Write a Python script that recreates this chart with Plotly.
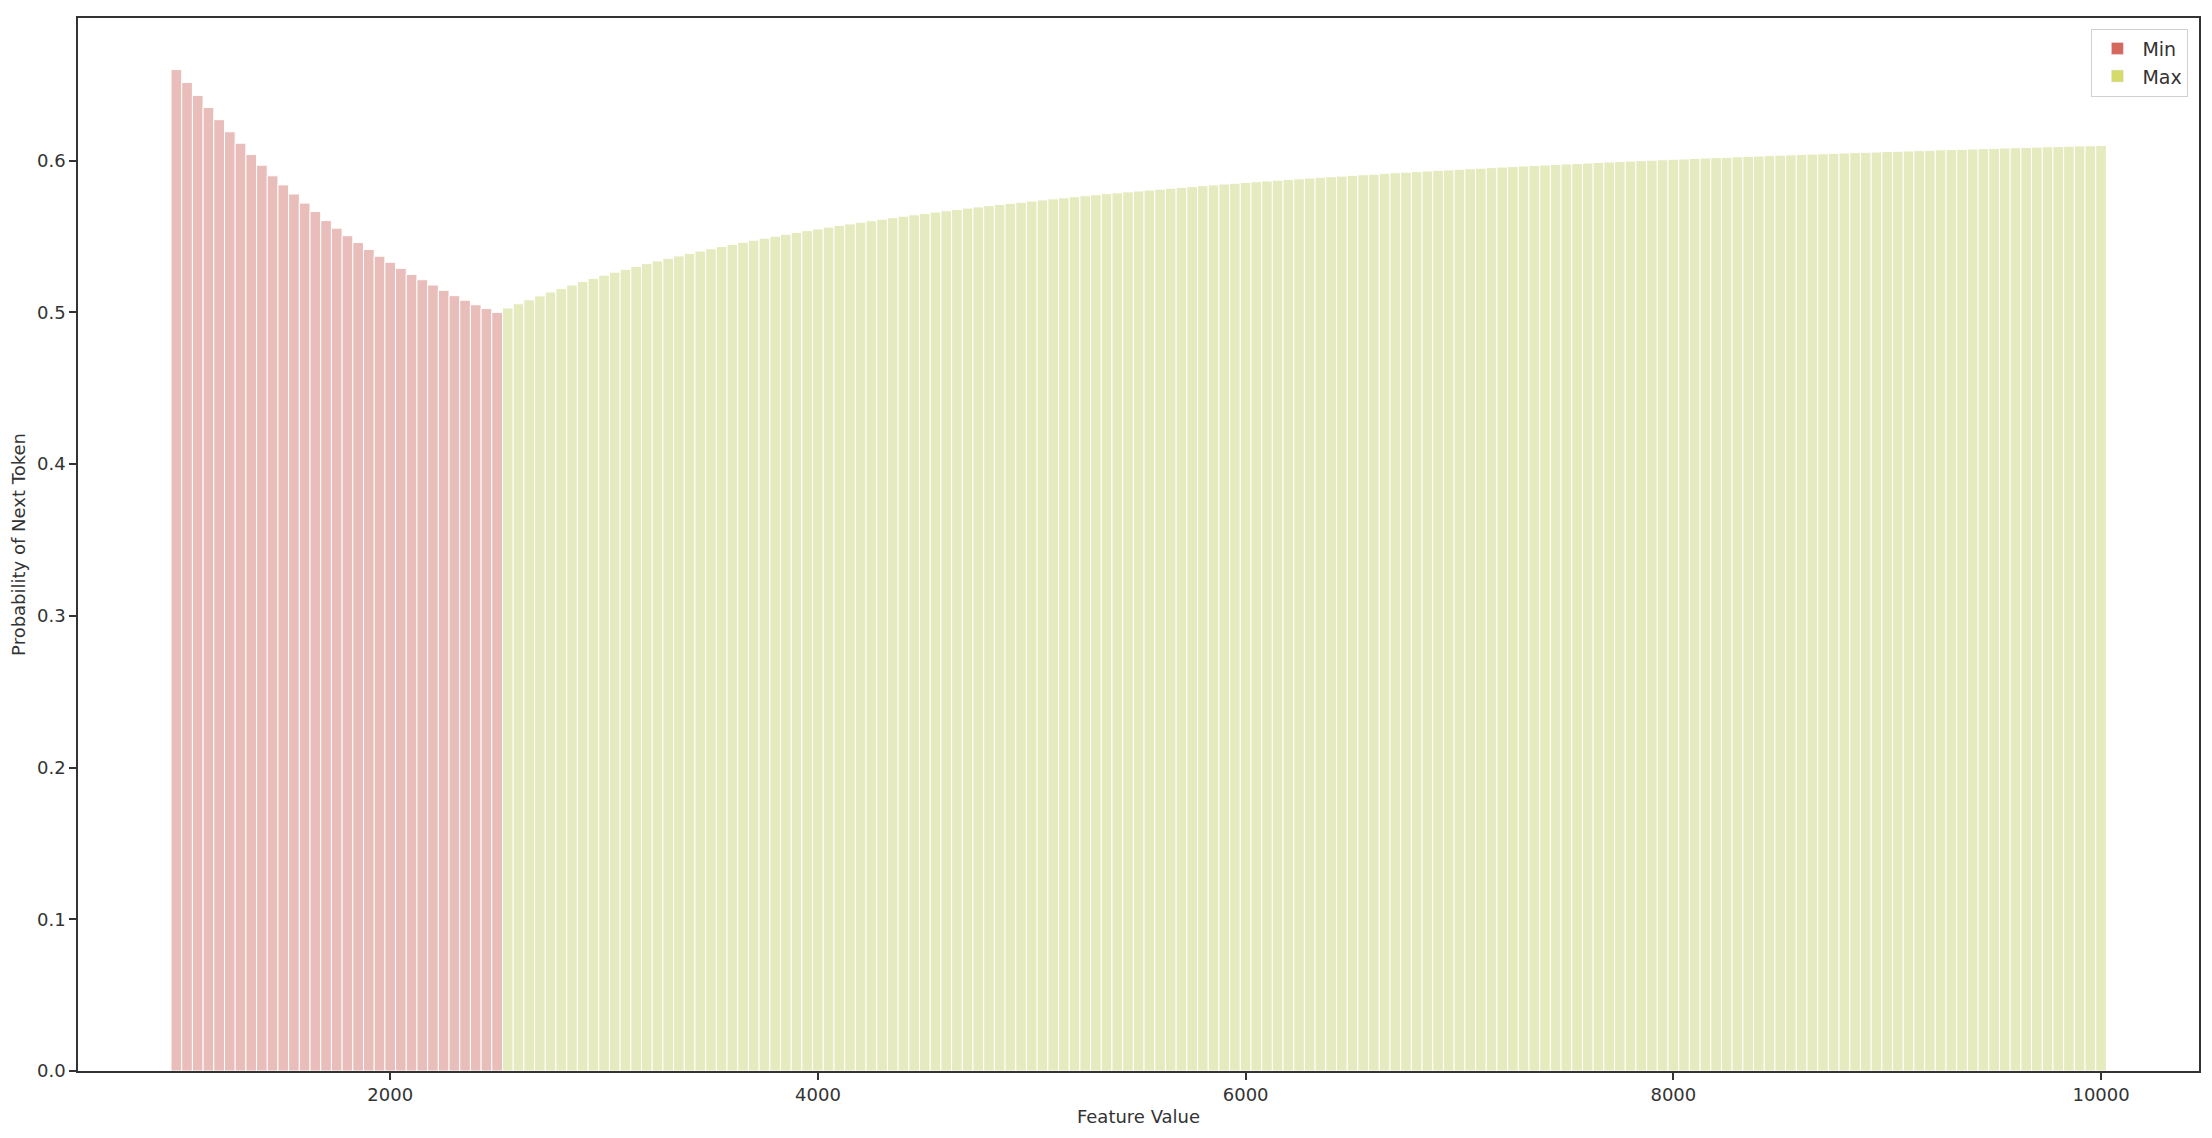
import plotly.graph_objects as go

# ---- data ----
min_x = [1000, 1050, 1100, 1150, 1200, 1250, 1300, 1350, 1400, 1450,
         1500, 1550, 1600, 1650, 1700, 1750, 1800, 1850, 1900, 1950,
         2000, 2050, 2100, 2150, 2200, 2250, 2300, 2350, 2400, 2450, 2500]
min_y = [0.660, 0.6515, 0.643, 0.635, 0.627, 0.619, 0.6115, 0.604, 0.597, 0.590,
         0.584, 0.578, 0.572, 0.5665, 0.5605, 0.5555, 0.5505, 0.546, 0.5415, 0.537,
         0.533, 0.529, 0.525, 0.5215, 0.518, 0.5145, 0.511, 0.508, 0.505, 0.5025, 0.500]

max_x = list(range(2550, 10001, 50))
max_y = [0.5029, 0.5057, 0.5083, 0.5109, 0.5134, 0.5157, 0.5180, 0.5203, 0.5224, 0.5245,
         0.5265, 0.5284, 0.5303, 0.5321, 0.5339, 0.5356, 0.5372, 0.5389, 0.5404, 0.5419,
         0.5434, 0.5448, 0.5462, 0.5476, 0.5489, 0.5502, 0.5515, 0.5527, 0.5539, 0.5550,
         0.5562, 0.5573, 0.5583, 0.5594, 0.5604, 0.5614, 0.5624, 0.5634, 0.5643, 0.5652,
         0.5661, 0.5670, 0.5678, 0.5687, 0.5695, 0.5703, 0.5711, 0.5719, 0.5726, 0.5734,
         0.5741, 0.5748, 0.5755, 0.5762, 0.5769, 0.5775, 0.5782, 0.5788, 0.5794, 0.5800,
         0.5806, 0.5812, 0.5818, 0.5824, 0.5829, 0.5835, 0.5840, 0.5846, 0.5851, 0.5856,
         0.5861, 0.5866, 0.5871, 0.5876, 0.5880, 0.5885, 0.5890, 0.5894, 0.5898, 0.5903,
         0.5907, 0.5911, 0.5916, 0.5920, 0.5924, 0.5928, 0.5932, 0.5936, 0.5939, 0.5943,
         0.5947, 0.5950, 0.5954, 0.5958, 0.5961, 0.5965, 0.5968, 0.5971, 0.5975, 0.5978,
         0.5981, 0.5984, 0.5988, 0.5991, 0.5994, 0.5997, 0.6000, 0.6003, 0.6006, 0.6009,
         0.6011, 0.6014, 0.6017, 0.6020, 0.6022, 0.6025, 0.6028, 0.6030, 0.6033, 0.6036,
         0.6038, 0.6041, 0.6043, 0.6045, 0.6048, 0.6050, 0.6053, 0.6055, 0.6057, 0.6060,
         0.6062, 0.6064, 0.6066, 0.6068, 0.6071, 0.6073, 0.6075, 0.6077, 0.6079, 0.6081,
         0.6083, 0.6085, 0.6087, 0.6089, 0.6091, 0.6093, 0.6095, 0.6097, 0.6098, 0.6100]

x_ticks = [2000, 4000, 6000, 8000, 10000]
y_ticks = [0.0, 0.1, 0.2, 0.3, 0.4, 0.5, 0.6]

MIN_SOLID = "#d5675c"
MAX_SOLID = "#d4db6b"
MIN_FILL = "#e9bdb9"
MAX_FILL = "#e6ebbf"
FONT = "DejaVu Sans"

fig = go.Figure()
fig.add_trace(go.Bar(x=min_x, y=min_y, width=[50] * len(min_x),
                     marker=dict(color=MIN_FILL, line=dict(color="white", width=1)),
                     showlegend=False, hoverinfo="x+y"))
fig.add_trace(go.Bar(x=max_x, y=max_y, width=[50] * len(max_x),
                     marker=dict(color=MAX_FILL, line=dict(color="white", width=1)),
                     showlegend=False, hoverinfo="x+y"))
# legend swatches
fig.add_trace(go.Bar(x=[None], y=[None], name="Min", marker=dict(color=MIN_SOLID)))
fig.add_trace(go.Bar(x=[None], y=[None], name="Max", marker=dict(color=MAX_SOLID)))

fig.update_layout(
    width=2196, height=1122,
    margin=dict(l=70, r=3, t=10, b=59),
    paper_bgcolor="white", plot_bgcolor="white",
    barmode="overlay",
    font=dict(family=FONT, size=18, color="#333333"),
    legend=dict(x=0.995, y=0.99, xanchor="right", yanchor="top",
                bgcolor="white", bordercolor="#d0d0d0", borderwidth=1,
                font=dict(size=19, color="#333333"), tracegroupgap=2,
                itemwidth=40),
    xaxis=dict(range=[540, 10458], tickvals=x_ticks, ticktext=[str(v) for v in x_ticks],
               showgrid=False, zeroline=False, showline=True, mirror=True,
               linecolor="#333333", linewidth=1.5, ticks="outside", ticklen=7,
               tickcolor="#333333", tickwidth=1.5,
               title=dict(text="Feature Value", font=dict(size=18), standoff=6)),
    yaxis=dict(range=[0, 0.694], tickvals=y_ticks, ticktext=[f"{v:.1f}" for v in y_ticks],
               showgrid=False, zeroline=False, showline=True, mirror=True,
               linecolor="#333333", linewidth=1.5, ticks="outside", ticklen=7,
               tickcolor="#333333", tickwidth=1.5,
               title=dict(text="Probability of Next Token", font=dict(size=18), standoff=8)),
)

fig.write_html("out.html")
